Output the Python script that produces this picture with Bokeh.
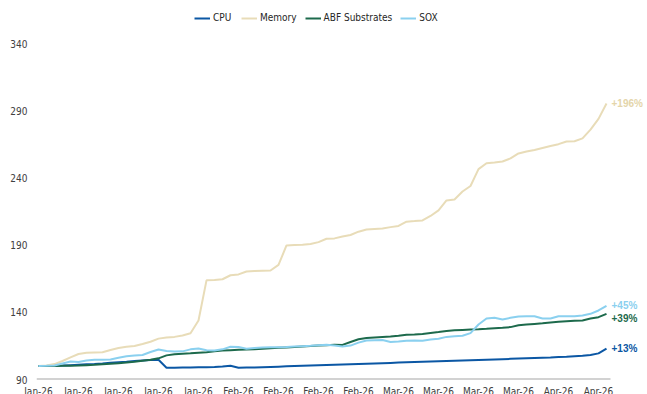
from bokeh.plotting import figure
from bokeh.models import Range1d, FixedTicker, Legend, LegendItem, Label
from bokeh.embed import file_html
from bokeh.resources import INLINE

# Indexed performance, trading days, start = 100
cpu = [100.0, 100.0, 100.2, 100.4, 100.7, 101.0, 101.3, 101.6, 102.0, 102.5,
       102.9, 103.3, 103.8, 104.2, 104.5, 104.7, 98.8, 98.8, 98.9, 99.0,
       99.1, 99.2, 99.4, 99.7, 100.3, 98.8, 98.9, 99.0, 99.2, 99.4,
       99.6, 99.8, 100.0, 100.2, 100.4, 100.6, 100.8, 101.0, 101.2, 101.4,
       101.6, 101.8, 102.0, 102.2, 102.4, 102.6, 102.8, 103.0, 103.2, 103.4,
       103.6, 103.8, 104.0, 104.2, 104.4, 104.6, 104.8, 105.0, 105.2, 105.4,
       105.6, 105.8, 106.0, 106.2, 106.4, 106.7, 107.0, 107.4, 107.7, 108.3,
       109.5, 113.0]
memory = [100.0, 100.5, 101.5, 103.8, 106.5, 109.0, 110.0, 110.2, 110.3, 112.0,
          113.5, 114.5, 115.0, 116.5, 118.2, 120.5, 121.3, 121.8, 122.8, 124.5,
          134.0, 164.0, 164.2, 164.8, 167.8, 168.4, 170.6, 171.0, 171.2, 171.3,
          175.5, 190.0, 190.3, 190.5, 191.1, 192.5, 195.0, 195.3, 196.7, 197.8,
          200.3, 201.9, 202.3, 202.7, 203.7, 204.6, 207.8, 208.2, 208.7, 212.0,
          216.2, 223.6, 224.3, 230.3, 234.4, 247.0, 251.4, 252.0, 252.7, 255.0,
          258.7, 260.1, 261.3, 262.8, 264.3, 265.6, 267.6, 267.8, 269.9, 276.5,
          284.5, 296.0]
abf = [100.0, 100.0, 100.1, 100.2, 100.3, 100.4, 100.7, 101.0, 101.4, 101.8,
       102.2, 102.7, 103.3, 104.0, 104.7, 105.8, 108.0, 108.8, 109.2, 109.5,
       110.0, 110.3, 111.0, 111.6, 111.9, 112.2, 112.4, 112.6, 113.0, 113.3,
       113.6, 113.9, 114.2, 114.6, 115.0, 115.3, 115.6, 115.9, 115.8, 118.0,
       120.0, 121.0, 121.4, 121.7, 122.0, 122.6, 123.4, 123.6, 124.0, 124.7,
       125.4, 126.2, 126.7, 127.0, 127.3, 127.5, 127.8, 128.3, 128.6, 129.1,
       130.5, 131.0, 131.5, 132.0, 132.6, 133.0, 133.4, 133.8, 134.0, 135.5,
       136.5, 139.0]
sox = [100.0, 100.2, 100.5, 102.0, 103.5, 103.0, 104.2, 104.7, 104.7, 105.0,
       106.2, 107.3, 107.9, 108.3, 110.5, 112.4, 111.2, 110.9, 111.0, 112.5,
       113.2, 111.8, 111.6, 112.5, 114.4, 114.2, 113.0, 113.5, 113.8, 114.0,
       114.1, 114.3, 114.6, 114.9, 115.2, 115.6, 115.9, 115.3, 114.6, 115.3,
       117.5, 119.1, 119.3, 119.5, 118.0, 118.3, 119.0, 119.1, 119.0, 119.8,
       120.4, 121.8, 122.3, 122.6, 124.6, 131.0, 135.5, 136.0, 134.8, 136.0,
       137.0, 137.2, 137.2, 135.5, 135.5, 137.2, 137.2, 137.2, 137.8, 139.0,
       141.5, 145.0]

series_names = ["CPU", "Memory", "ABF Substrates", "SOX"]
series_colors = ["#0b57a4", "#e8dcb8", "#1d6a4c", "#8ad0ef"]
label_colors = ["#0b57a4", "#e4d5aa", "#1d6a4c", "#8ad0ef"]

tick_labels = ["Jan-26", "Jan-26", "Jan-26", "Jan-26", "Jan-26",
               "Feb-26", "Feb-26", "Feb-26", "Feb-26",
               "Mar-26", "Mar-26", "Mar-26", "Mar-26",
               "Apr-26", "Apr-26"]
y_ticks = [90, 140, 190, 240, 290, 340]

NARROW = "'Liberation Sans Narrow', 'Arial Narrow', 'DejaVu Sans Condensed', sans-serif"
BOLD = "'Liberation Sans', Arial, sans-serif"

x = list(range(len(cpu)))
tick_step = 5
X_START, X_AXIS_END = -0.25, 71.5
Y_START = 90

# the frame runs to the right edge so the end labels have room;
# headroom above the 340 tick holds the legend
p = figure(width=647, height=400,
           x_range=Range1d(X_START, 76.125), y_range=Range1d(Y_START, 372.8),
           output_backend="svg", toolbar_location=None,
           min_border_left=36, min_border_right=0,
           min_border_top=0, min_border_bottom=21)
p.outline_line_color = None
p.xgrid.visible = False
p.ygrid.visible = False
p.background_fill_color = "white"
p.border_fill_color = "white"

# horizontal baseline of the time axis
p.segment(x0=[X_START], y0=[Y_START], x1=[X_AXIS_END], y1=[Y_START],
          line_color="#a6a6a6", line_width=2)

all_series = [cpu, memory, abf, sox]
items = []
for name, ys, col in zip(series_names, all_series, series_colors):
    r = p.line(x, ys, line_width=2, line_color=col)
    items.append(LegendItem(label=name, renderers=[r]))

legend = Legend(items=items, orientation="horizontal", location=(158, 356),
                margin=0, padding=0, spacing=8, label_standoff=3,
                glyph_width=16, glyph_height=10, label_height=10,
                label_text_font=NARROW, label_text_font_size="10px",
                label_text_color="#262626",
                border_line_color=None, background_fill_alpha=0)
p.add_layout(legend)

# x axis: one label per trading week
xt = [i * tick_step for i in range(len(tick_labels))]
p.xaxis.ticker = FixedTicker(ticks=xt)
p.xaxis.major_label_overrides = {t: lab for t, lab in zip(xt, tick_labels)}
p.xaxis.axis_line_color = None
p.xaxis.major_tick_line_color = None
p.xaxis.minor_tick_line_color = None
p.xaxis.major_tick_out = 0
p.xaxis.major_label_standoff = 6
p.xaxis.major_label_text_font = NARROW
p.xaxis.major_label_text_font_size = "10px"
p.xaxis.major_label_text_color = "#404040"

p.yaxis.ticker = FixedTicker(ticks=y_ticks)
p.yaxis.axis_line_color = None
p.yaxis.major_tick_line_color = None
p.yaxis.minor_tick_line_color = None
p.yaxis.major_tick_out = 0
p.yaxis.major_label_standoff = 9
p.yaxis.major_label_text_font = NARROW
p.yaxis.major_label_text_font_size = "10px"
p.yaxis.major_label_text_color = "#404040"

# end-of-line change labels
y_shift = [0, 0, -5, 0]
for ys, col, dy in zip(all_series, label_colors, y_shift):
    pct = round(ys[-1] / ys[0] * 100 - 100)
    p.add_layout(Label(x=x[-1], y=ys[-1], text=f"+{pct}%", x_offset=5, y_offset=dy,
                       text_baseline="middle", text_align="left",
                       text_font=BOLD, text_font_style="bold",
                       text_font_size="10px", text_color=col))

html = file_html(p, INLINE)
html = html.replace("</head>", "<style>html,body{overflow:hidden;}</style></head>", 1)
open("out.html", "w").write(html)
